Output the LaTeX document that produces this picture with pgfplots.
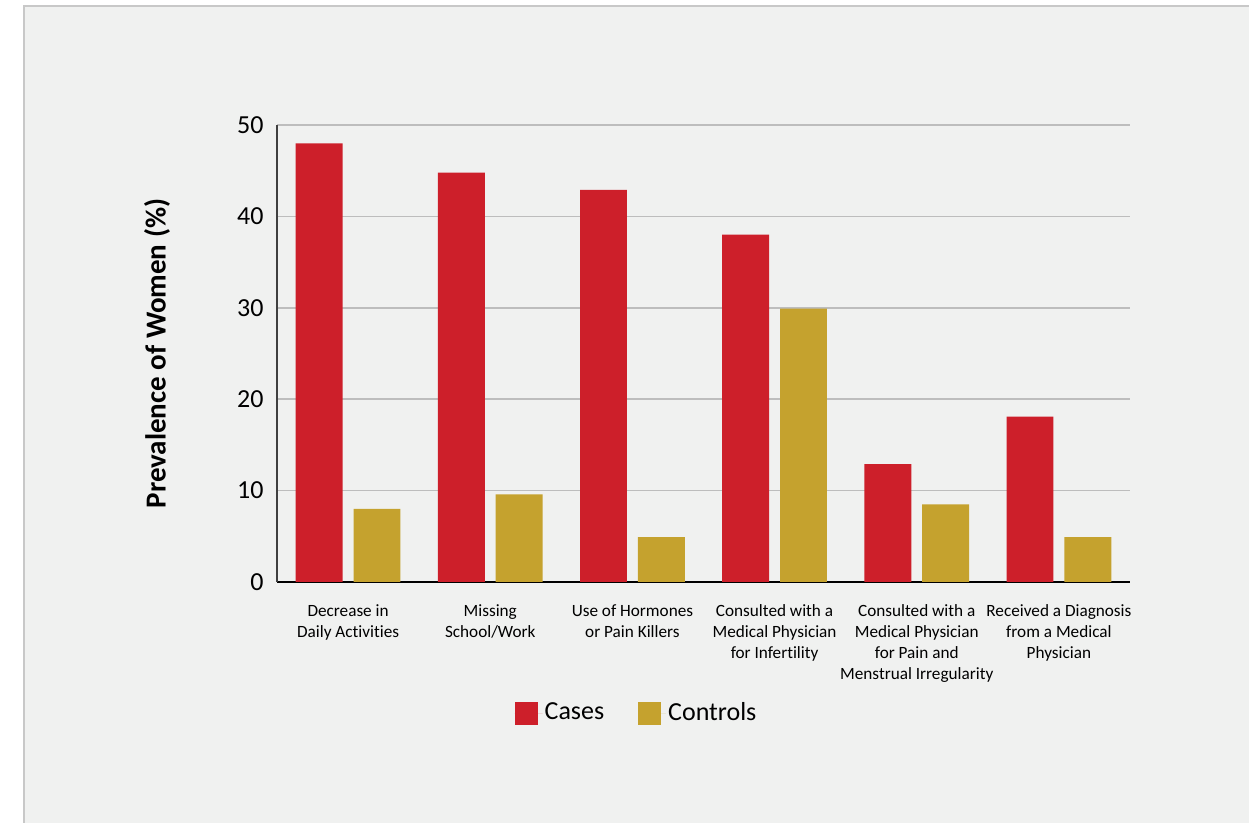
\documentclass[border=0pt]{standalone}
\usepackage{pgfplots}
\pgfplotsset{compat=1.18}
\usepackage{fontspec}
\setmainfont{Carlito}[Ligatures=NoCommon]

\definecolor{panelbg}{HTML}{F0F1F0}
\definecolor{panelline}{HTML}{C8C8C8}
\definecolor{gridgray}{HTML}{BDBDBD}
\definecolor{casered}{HTML}{CD1F2A}
\definecolor{controlgold}{HTML}{C5A22E}

\pgfplotsset{
  squarelegend/.style={legend image code/.code={%
    \fill[##1] (0pt,-5.75pt) rectangle (11.5pt,5.75pt);
    \path (0pt,0pt) -- (14pt,0pt);}}
}

\begin{document}
\begin{tikzpicture}
% page frame and grey panel
\path[use as bounding box] (0pt,0pt) rectangle (629pt,411.5pt);
\fill[panelbg] (12pt,0pt) rectangle (624.5pt,408.5pt);
\draw[panelline, line width=0.9pt] (12pt,0pt) -- (12pt,408.5pt) -- (624.5pt,408.5pt);

\begin{axis}[
  at={(138.5pt,120.5pt)}, anchor=south west,
  scale only axis,
  width=426.5pt, height=228.5pt,
  xmin=-0.5, xmax=5.5,
  ymin=0, ymax=50,
  ytick={0,10,20,30,40,50},
  xtick={0,1,2,3,4,5},
  xticklabels={
    {Decrease in\\Daily Activities},
    {Missing\\School/Work},
    {Use of Hormones\\or Pain Killers},
    {Consulted with a\\Medical Physician\\for Infertility},
    {Consulted with a\\Medical Physician\\for Pain and\\Menstrual Irregularity},
    {Received a Diagnosis\\from a Medical\\Physician}},
  axis x line=bottom, axis y line=left,
  axis line style={-},
  x axis line style={black, line width=1pt},
  y axis line style={black!75, line width=1pt},
  major tick length=0pt,
  ymajorgrids,
  grid style={gridgray, line width=0.8pt},
  /pgf/number format/assume math mode=true,
  yticklabel style={font=\fontsize{13}{15}\selectfont, inner sep=0pt, xshift=-6.5pt},
  xticklabel style={font=\fontsize{8.6}{10.5}\selectfont, align=center, anchor=north, inner sep=0pt, yshift=-11pt},
  ylabel={Prevalence of Women (\%)},
  ylabel style={font=\fontsize{14.5}{17}\selectfont\bfseries, at={(rel axis cs:-0.1407,0.5)}, anchor=center},
  legend columns=2,
  legend style={at={(0.4215,-0.2867)}, anchor=center, draw=none, fill=none,
    font=\fontsize{13}{15}\selectfont, nodes={inner sep=1pt},
    /tikz/every even column/.append style={column sep=16pt}},
  ybar, bar width=0.33,
]
\addplot[fill=casered, draw=none, bar shift=-0.2035, squarelegend] coordinates {
  (0,48) (1,44.8) (2,42.9) (3,38) (4,12.9) (5,18.1)};
\addlegendentry{Cases}
\addplot[fill=controlgold, draw=none, bar shift=0.2035, squarelegend] coordinates {
  (0,8) (1,9.6) (2,4.9) (3,29.9) (4,8.5) (5,4.9)};
\addlegendentry{Controls}
\end{axis}
\end{tikzpicture}
\end{document}
